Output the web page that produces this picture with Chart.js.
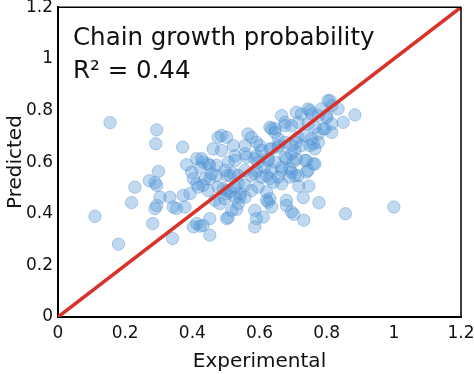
<!DOCTYPE html>
<html>
<head>
<meta charset="utf-8">
<script src="https://cdn.jsdelivr.net/npm/chart.js@4.4.1/dist/chart.umd.min.js"></script>
<style>
  html, body { margin: 0; padding: 0; background: #fff; }
  #wrap { width: 474px; height: 374px; position: relative; }
</style>
</head>
<body>
<div id="wrap"><canvas id="chart"></canvas></div>
<script>
const experimental = [
  0.155, 0.294, 0.291, 0.371, 0.383, 0.299, 0.272, 0.229, 0.219, 0.398,
  0.403, 0.294, 0.289, 0.333, 0.373, 0.393, 0.110, 0.282, 0.180, 0.341,
  0.294, 0.289, 0.304, 0.353, 0.343, 0.403, 0.413, 0.378, 0.423, 0.452,
  0.507, 0.532, 0.502, 0.586, 0.586, 0.591, 0.611, 0.626, 0.636, 0.680,
  0.695, 0.702, 0.432, 0.452, 0.482, 0.517, 0.537, 0.502, 0.542, 0.732,
  0.730, 0.777, 0.856, 1.000, 0.717, 0.747, 0.884, 0.849, 0.810, 0.834,
  0.800, 0.750, 0.725, 0.785, 0.815, 0.790, 0.775, 0.760, 0.750, 0.740,
  0.760, 0.700, 0.710, 0.705, 0.740, 0.666, 0.710, 0.631, 0.646, 0.676,
  0.566, 0.576, 0.487, 0.477, 0.502, 0.462, 0.487, 0.522, 0.557, 0.591,
  0.601, 0.413, 0.432, 0.423, 0.452, 0.472, 0.507, 0.527, 0.562, 0.591,
  0.502, 0.522, 0.452, 0.472, 0.413, 0.432, 0.492, 0.512, 0.537, 0.557,
  0.542, 0.576, 0.591, 0.621, 0.641, 0.666, 0.690, 0.646, 0.680, 0.631,
  0.656, 0.695, 0.710, 0.666, 0.690, 0.631, 0.680, 0.621,
  0.557, 0.606, 0.428, 0.447, 0.527, 0.586, 0.596, 0.438, 0.457, 0.497,
  0.512, 0.537, 0.557, 0.586, 0.606, 0.616, 0.626, 0.418, 0.447, 0.477,
  0.502, 0.527, 0.576, 0.596, 0.467, 0.497, 0.527, 0.557, 0.621,
  0.804, 0.815, 0.745, 0.755, 0.775, 0.800, 0.676, 0.636, 0.646, 0.695,
  0.715, 0.745, 0.765, 0.795, 0.815, 0.656, 0.676, 0.715, 0.735, 0.755,
  0.775, 0.636, 0.656, 0.705, 0.725, 0.765, 0.626, 0.676, 0.695, 0.735,
  0.765, 0.636, 0.666, 0.695, 0.715, 0.745, 0.631, 0.656
];
const predicted = [
  0.753, 0.725, 0.671, 0.658, 0.590, 0.564, 0.528, 0.503, 0.443, 0.561,
  0.536, 0.510, 0.520, 0.464, 0.471, 0.478, 0.390, 0.362, 0.282, 0.304,
  0.432, 0.420, 0.464, 0.420, 0.426, 0.349, 0.362, 0.426, 0.352, 0.317,
  0.385, 0.417, 0.381, 0.349, 0.413, 0.381, 0.387, 0.445, 0.426, 0.432,
  0.407, 0.398, 0.355, 0.381, 0.439, 0.413, 0.439, 0.478, 0.478, 0.375,
  0.462, 0.443, 0.400, 0.426, 0.507, 0.507, 0.783, 0.754, 0.838, 0.806,
  0.780, 0.799, 0.786, 0.806, 0.748, 0.729, 0.709, 0.671, 0.664, 0.606,
  0.593, 0.600, 0.613, 0.548, 0.561, 0.780, 0.793, 0.735, 0.729, 0.741,
  0.709, 0.696, 0.703, 0.696, 0.696, 0.651, 0.645, 0.664, 0.664, 0.677,
  0.664, 0.613, 0.600, 0.580, 0.587, 0.587, 0.600, 0.625, 0.619, 0.625,
  0.548, 0.555, 0.536, 0.548, 0.516, 0.510, 0.497, 0.484, 0.516, 0.510,
  0.464, 0.548, 0.568, 0.548, 0.522, 0.568, 0.574, 0.600, 0.613, 0.651,
  0.658, 0.664, 0.677, 0.516, 0.542, 0.458, 0.452, 0.484,
  0.632, 0.645, 0.613, 0.593, 0.606, 0.613, 0.600, 0.536, 0.555, 0.568,
  0.548, 0.548, 0.568, 0.555, 0.542, 0.580, 0.606, 0.503, 0.490, 0.503,
  0.490, 0.503, 0.490, 0.503, 0.452, 0.458, 0.464, 0.464, 0.452,
  0.838, 0.819, 0.806, 0.786, 0.780, 0.773, 0.754, 0.729, 0.715, 0.741,
  0.754, 0.748, 0.735, 0.729, 0.715, 0.690, 0.677, 0.696, 0.703, 0.690,
  0.677, 0.651, 0.664, 0.645, 0.664, 0.651, 0.613, 0.619, 0.632, 0.606,
  0.593, 0.568, 0.580, 0.561, 0.548, 0.568, 0.536, 0.542
];
const parityLine = [0, 1.2];
const tickLabels = ['0', '0.2', '0.4', '0.6', '0.8', '1', '1.2'];
const chartTitle = 'Chain growth probability';
const scoreText = 'R\u00B2 = 0.44';

const points = experimental.map(function (x, i) { return { x: x, y: predicted[i] }; });
const linePoints = parityLine.map(function (v) { return { x: v, y: v }; });

const fontFamily = '"DejaVu Sans", Verdana, sans-serif';

// top and right edges of the frame + the annotation text
const framePlugin = {
  id: 'frame',
  afterDraw: function (chart) {
    const ctx = chart.ctx;
    const a = chart.chartArea;
    ctx.save();
    ctx.strokeStyle = '#000';
    ctx.lineWidth = 1.5;
    ctx.beginPath();
    ctx.moveTo(a.left, a.top);
    ctx.lineTo(a.right, a.top);
    ctx.lineTo(a.right, a.bottom);
    ctx.stroke();
    ctx.fillStyle = '#111';
    ctx.font = '24.5px ' + fontFamily;
    ctx.textBaseline = 'alphabetic';
    ctx.fillText(chartTitle, 73, 45);
    ctx.fillText(scoreText, 73, 78);
    ctx.restore();
  }
};

new Chart(document.getElementById('chart'), {
  type: 'scatter',
  data: {
    datasets: [{
      type: 'line',
      data: linePoints,
      borderColor: '#d8322a',
      borderWidth: 3.5,
      pointRadius: 0,
      order: 0
    }, {
      data: points,
      backgroundColor: 'rgba(80, 150, 215, 0.36)',
      borderColor: 'rgba(80, 140, 200, 0.4)',
      borderWidth: 1,
      pointRadius: 6.2,
      order: 1
    }]
  },
  options: {
    responsive: true,
    maintainAspectRatio: false,
    animation: false,
    layout: { padding: { top: 6, right: 13, left: 0, bottom: 0 } },
    plugins: {
      legend: { display: false },
      tooltip: { enabled: false }
    },
    scales: {
      x: {
        type: 'linear',
        min: 0,
        max: 1.2,
        grid: { display: false, drawTicks: false },
        border: { display: true, color: '#000', width: 2 },
        ticks: {
          stepSize: 0.2,
          color: '#111',
          padding: 6,
          maxRotation: 0,
          font: { family: fontFamily, size: 17 },
          callback: function (v, i) { return tickLabels[i]; }
        },
        title: {
          display: true,
          text: 'Experimental',
          color: '#111',
          padding: { top: 0, bottom: 0 },
          font: { family: fontFamily, size: 20 }
        },
        afterFit: function (scale) {
          scale.height = 57;
          scale.paddingLeft = 0;
          scale.paddingRight = 0;
        }
      },
      y: {
        type: 'linear',
        min: 0,
        max: 1.2,
        grid: { display: false, drawTicks: false },
        border: { display: true, color: '#000', width: 2 },
        ticks: {
          stepSize: 0.2,
          color: '#111',
          padding: 5,
          font: { family: fontFamily, size: 17 },
          callback: function (v, i) { return tickLabels[i]; }
        },
        title: {
          display: true,
          text: 'Predicted',
          color: '#111',
          padding: { top: 4, bottom: 0 },
          font: { family: fontFamily, size: 20 }
        },
        afterFit: function (scale) {
          scale.width = 58;
          scale.paddingTop = 0;
          scale.paddingBottom = 0;
        }
      }
    }
  },
  plugins: [framePlugin]
});
</script>
</body>
</html>
